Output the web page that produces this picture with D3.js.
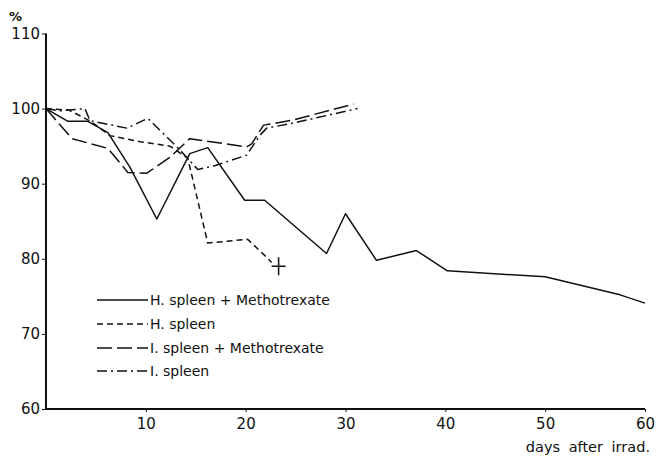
<!DOCTYPE html>
<html><head><meta charset="utf-8">
<script src="https://cdn.jsdelivr.net/npm/d3@7"></script>
<style>body{margin:0;background:#fff}svg{display:block}text{font-family:"DejaVu Sans",sans-serif;fill:#111}</style>
</head><body><svg id="c" width="660" height="460"></svg>
<script>
const xTicks = [10,20,30,40,50,60];
const yTicks = [60,70,80,90,100,110];
const seriesNames = ["H. spleen + Methotrexate","H. spleen","I. spleen + Methotrexate","I. spleen"];
const hMtxDays = [0,2.2,4.2,6.2,8.4,11.1,14.4,16.2,19.9,21.9,28.1,30,33.1,37.1,40.2,50,57.5,60];
const hMtxVals = [100,98.3,98.3,96.8,92.2,85.3,94.0,94.8,87.8,87.8,80.7,86.0,79.8,81.1,78.4,77.6,75.2,74.1];
const hDays = [0,2.3,4.5,6.4,9.4,12.4,14.2,16.2,20.2,22.1,22.6];
const hVals = [100,99.8,98.3,96.4,95.6,95.0,93.4,82.1,82.6,80.2,79.5];
const iMtxDays = [0,2.6,6.2,8.2,10.1,12.4,14.4,20.1,20.6,21.8,22.8,24.8,30.8];
const iMtxVals = [100,96.0,94.7,91.5,91.4,93.5,96.0,94.9,95.3,97.8,98.0,98.5,100.6];
const iDays = [0,1.4,3.9,4.4,8.1,10.2,13.2,15.2,16.9,20.1,21.4,22.1,24.5,31.2];
const iVals = [100,99.7,100.0,98.4,97.4,98.7,94.8,91.9,92.4,93.8,96.4,97.4,98.0,100.0];
const deathMark = [23.3, 79.0];

const dashes = [null, "6,4", "15,5", "10,4,2,4"];
const series = [
  {days:hMtxDays, vals:hMtxVals},
  {days:hDays, vals:hVals},
  {days:iMtxDays, vals:iMtxVals},
  {days:iDays, vals:iVals}
];

const svg = d3.select("#c");
const x = d3.scaleLinear().domain([0,60]).range([46,645]);
const y = d3.scaleLinear().domain([60,110]).range([409,33.5]);

// axes
const xAxis = svg.append("g").attr("transform",`translate(0,${y(60)})`)
  .call(d3.axisBottom(x).tickValues(xTicks).tickSize(3).tickPadding(6).tickSizeOuter(0));
xAxis.select(".domain").attr("stroke","#111").attr("stroke-width",2).attr("d",`M${x(0)},0H${x(60)}`);
xAxis.selectAll("line").attr("stroke","#111");
xAxis.selectAll("text").attr("font-size",15).attr("fill","#111");

const yAxis = svg.append("g").attr("transform",`translate(${x(0)},0)`)
  .call(d3.axisLeft(y).tickValues(yTicks).tickSize(4).tickPadding(2).tickSizeOuter(0));
yAxis.select(".domain").attr("stroke","#111").attr("stroke-width",2).attr("d",`M0,${y(110)}V${y(60)}`);
yAxis.selectAll("line").attr("stroke","#111");
yAxis.selectAll("text").attr("font-size",15).attr("fill","#111");

svg.append("text").attr("x",9).attr("y",21).attr("font-size",13).attr("font-weight","bold").text("%");
svg.append("text").attr("x",650).attr("y",452).attr("text-anchor","end").attr("font-size",14.5)
  .attr("word-spacing",4).text("days after irrad.");

// lines
const line = d3.line().x(d=>x(d[0])).y(d=>y(d[1]));
series.forEach((s,i)=>{
  svg.append("path").datum(s.days.map((d,j)=>[d,s.vals[j]]))
    .attr("d",line).attr("fill","none").attr("stroke","#111").attr("stroke-width",1.5)
    .attr("stroke-linejoin","round")
    .attr("stroke-dasharray",dashes[i]);
});

// death cross
const cx = x(deathMark[0]), cy = y(deathMark[1]);
svg.append("path").attr("d",`M${cx},${cy-9}V${cy+9}M${cx-7},${cy}H${cx+7}`)
  .attr("stroke","#111").attr("stroke-width",1.5);

// legend
const lg = svg.append("g");
const rowsY = [300,324,348,371];
seriesNames.forEach((n,i)=>{
  lg.append("line").attr("x1",97).attr("x2",148).attr("y1",rowsY[i]).attr("y2",rowsY[i])
    .attr("stroke","#111").attr("stroke-width",1.3).attr("stroke-dasharray",dashes[i]);
  lg.append("text").attr("x",150).attr("y",rowsY[i]+5).attr("font-size",14).text(n);
});
</script></body></html>
